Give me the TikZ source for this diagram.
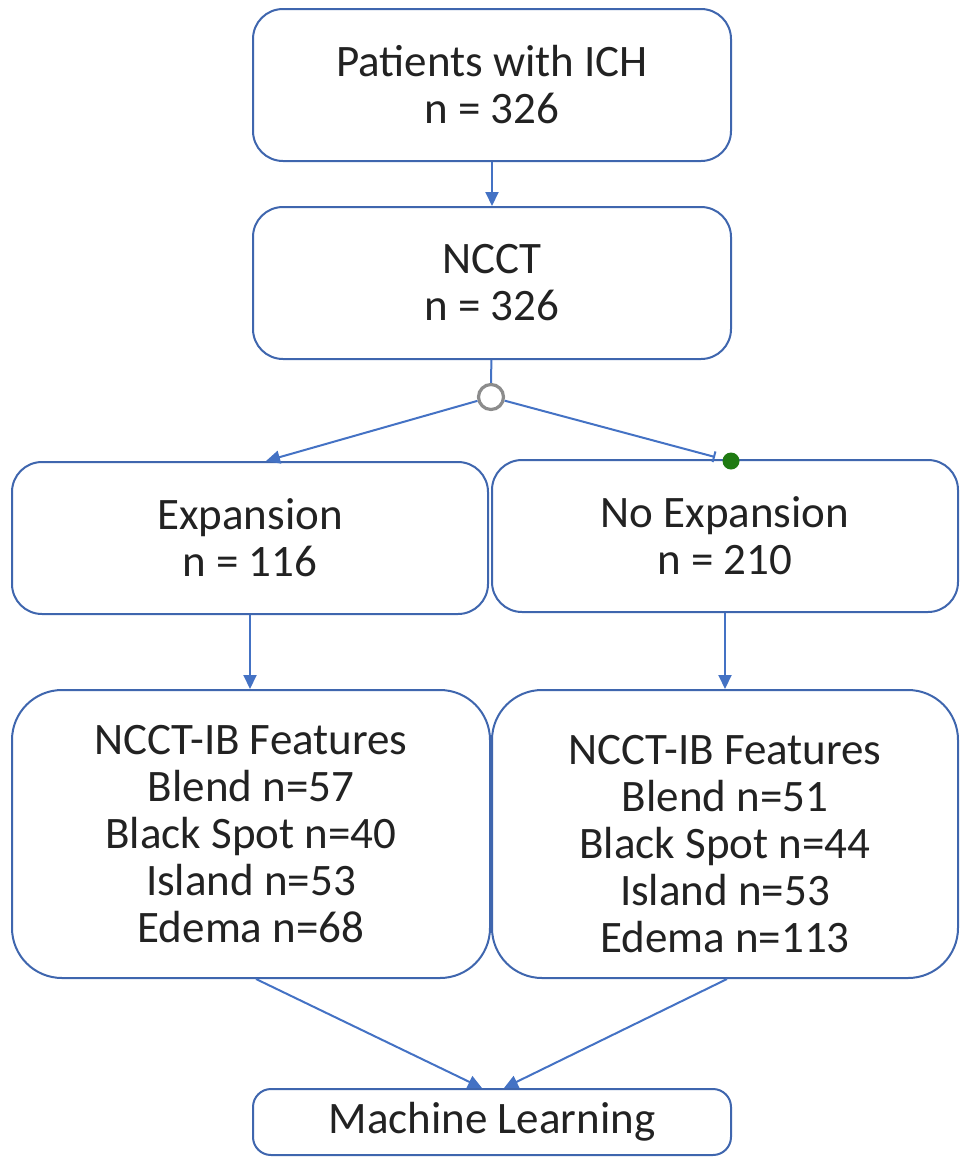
\documentclass[tikz,border=0pt]{standalone}
\usepackage{fontspec}
\setmainfont{Carlito}
\usetikzlibrary{arrows.meta,calc}
\definecolor{boxblue}{HTML}{3F66AE}
\definecolor{arrblue}{HTML}{4472C4}
\definecolor{txt}{HTML}{222222}
\definecolor{dotgreen}{HTML}{1F7A12}
\definecolor{ringgray}{HTML}{8C8C8C}
\begin{document}
\begin{tikzpicture}[x=1pt,y=-1pt,
 box/.style={draw=boxblue,line width=2pt,rounded corners=30pt,fill=white,text=txt,align=center,
   font=\fontsize{45}{47}\selectfont,inner sep=0pt},
 bigbox/.style={box,rounded corners=50pt},
 line/.style={draw=arrblue,line width=2pt},
 conn/.style={line,-{Triangle[length=14pt,width=13pt]}}]
\useasboundingbox (0,0) rectangle (961,1157);
\node[box,minimum width=478pt,minimum height=152pt] (top) at (492,85) {Patients with ICH\\n = 326};
\node[box,minimum width=478pt,minimum height=152pt] (ncct) at (492,283) {NCCT\\n = 326};
\node[box,minimum width=476pt,minimum height=152pt] (exp) at (250,538) {Expansion\\n = 116};
\node[box,minimum width=466pt,minimum height=152pt] (noexp) at (725,536) {No Expansion\\n = 210};
\node[bigbox,minimum width=478pt,minimum height=288pt] (feat1) at (251,834) {NCCT-IB Features\\Blend n=57\\Black Spot n=40\\Island n=53\\Edema n=68};
\node[bigbox,minimum width=466pt,minimum height=288pt] (feat2) at (725,834) {\rule{0pt}{0pt}\\[2pt]NCCT-IB Features\\Blend n=51\\Black Spot n=44\\Island n=53\\Edema n=113};
\node[box,rounded corners=18pt,minimum width=478pt,minimum height=66pt] (ml) at (492,1122) {Machine Learning};
\node[circle,draw=ringgray,line width=3.2pt,minimum size=25pt,inner sep=0pt,fill=white] (split) at (491,397) {};
\node[circle,fill=dotgreen,minimum size=17pt,inner sep=0pt] (dot) at (731,461) {};
\coordinate (tee) at (715,457);
\draw[conn] (top) -- (ncct);
\draw[line] (ncct) -- (split);
\draw[conn] (split) -- ($(exp.north)+(16,0)$);
\draw[line,-{Bar[width=11pt]}] (split) -- (tee);
\draw[conn] (exp.south) -- (exp.south |- feat1.north);
\draw[conn] (noexp.south) -- (noexp.south |- feat2.north);
\draw[conn] ($(feat1.south)+(5,0)$) -- ($(ml.north)+(-10,0)$);
\draw[conn] ($(feat2.south)+(2,0)$) -- ($(ml.north)+(12,0)$);
\end{tikzpicture}
\end{document}
